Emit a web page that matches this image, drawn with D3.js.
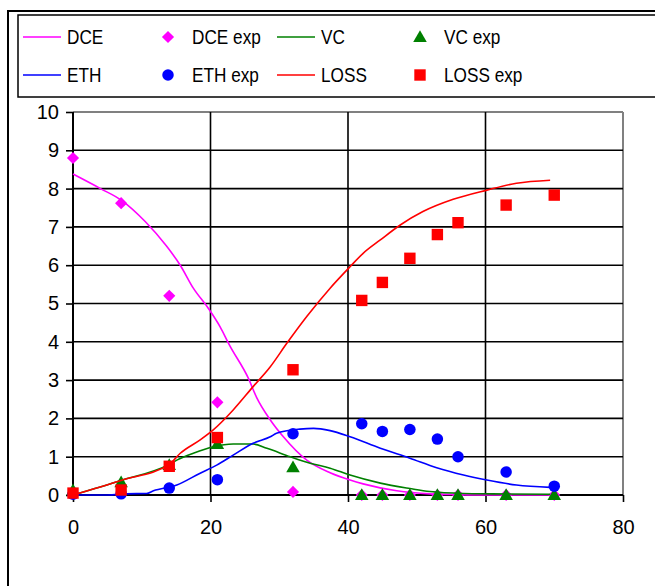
<!DOCTYPE html>
<html>
<head>
<meta charset="utf-8">
<script src="https://cdn.jsdelivr.net/npm/d3@7"></script>
<style>
  html, body { margin: 0; padding: 0; background: #fff; }
  svg { display: block; }
  text { font-family: "Liberation Sans", Arial, sans-serif; fill: #000; }
</style>
</head>
<body>
<svg id="chart" width="655" height="586"></svg>
<script>
// ---- data ----
const expDays = [0, 7, 14, 21, 32, 42, 45, 49, 53, 56, 63, 70];
const dceExp  = [8.8, 7.62, 5.2, 2.42, 0.08, 0, 0, 0, 0, 0, 0, 0];
const vcExp   = [0.12, 0.33, 0.78, 1.33, 0.72, 0, 0, 0, 0, 0, 0, 0];
const ethExp  = [0.02, 0.03, 0.18, 0.4, 1.6, 1.86, 1.66, 1.71, 1.46, 1.0, 0.6, 0.23];
const lossExp = [0.05, 0.13, 0.75, 1.5, 3.27, 5.08, 5.55, 6.18, 6.8, 7.11, 7.57, 7.83];

const dceT = [0, 4, 7, 10.5, 13.6, 15.6, 17.5, 19.7, 21.4, 22.8, 25.5, 26.7, 28.7, 30.6, 34, 37.4, 40.3, 42.2, 47.1, 51.9, 56, 60, 65, 70];
const dceModel = [8.38, 8.0, 7.7, 7.14, 6.5, 6.0, 5.4, 4.87, 4.39, 3.9, 3.05, 2.55, 1.96, 1.52, 0.91, 0.58, 0.39, 0.29, 0.11, 0.03, 0.01, 0, 0, 0];

const vcT = [0, 7, 14, 15.1, 17.5, 20.4, 23.3, 26.2, 28.2, 31.6, 34.5, 37.4, 40.3, 44.7, 49, 51.9, 56.8, 61, 69.4];
const vcModel = [0, 0.38, 0.8, 0.91, 1.09, 1.26, 1.33, 1.33, 1.22, 1.0, 0.83, 0.7, 0.52, 0.31, 0.17, 0.09, 0.04, 0.03, 0.02];

const ethT = [0, 5, 7.8, 10.7, 11.7, 15.1, 18.5, 20.9, 23.3, 26.2, 28.7, 29.6, 33, 35, 37.4, 40.3, 44.7, 49, 52.9, 56.8, 60.2, 64.5, 69.4];
const ethModel = [0, 0, 0.03, 0.04, 0.11, 0.26, 0.57, 0.78, 1.04, 1.35, 1.52, 1.61, 1.72, 1.74, 1.68, 1.52, 1.22, 0.96, 0.71, 0.52, 0.39, 0.26, 0.2];

const lossT = [0, 7, 14, 15.6, 18.5, 20.4, 23.3, 26.2, 28.7, 31.1, 34, 37.4, 40.3, 42.2, 44.7, 47.6, 50.9, 55.3, 60.2, 64.5, 69.4];
const lossModel = [0, 0.38, 0.8, 1.09, 1.44, 1.70, 2.22, 2.83, 3.35, 3.96, 4.66, 5.40, 5.96, 6.31, 6.66, 7.05, 7.40, 7.72, 7.96, 8.14, 8.22];

const xTicks = [0, 20, 40, 60, 80];
const yTicks = [0, 1, 2, 3, 4, 5, 6, 7, 8, 9, 10];

const seriesNames = ["DCE", "DCE exp", "VC", "VC exp", "ETH", "ETH exp", "LOSS", "LOSS exp"];
const colors = { DCE: "#FF00FF", VC: "#008000", ETH: "#0000FF", LOSS: "#FF0000" };

// ---- drawing ----
const svg = d3.select("#chart");
const x = d3.scaleLinear().domain([0, 80]).range([73, 623]);
const y = d3.scaleLinear().domain([0, 10]).range([495, 112]);

// outer chart frame
svg.append("rect").attr("x", 8).attr("y", 11).attr("width", 700).attr("height", 700)
  .attr("fill", "#fff").attr("stroke", "#000").attr("stroke-width", 2);

// legend box
svg.append("rect").attr("x", 18).attr("y", 15).attr("width", 700).attr("height", 82)
  .attr("fill", "#fff").attr("stroke", "#000").attr("stroke-width", 1.5);

// plot area border (gray top/right)
svg.append("line").attr("x1", x(0)).attr("x2", x(80)).attr("y1", y(10)).attr("y2", y(10))
  .attr("stroke", "#808080").attr("stroke-width", 2);
svg.append("line").attr("x1", x(80)).attr("x2", x(80)).attr("y1", y(10)).attr("y2", y(0))
  .attr("stroke", "#808080").attr("stroke-width", 2);

// gridlines
svg.append("g").selectAll("line").data(yTicks.filter(d => d > 0 && d < 10)).join("line")
  .attr("x1", x(0)).attr("x2", x(80)).attr("y1", d => y(d)).attr("y2", d => y(d))
  .attr("stroke", "#000").attr("stroke-width", 1.6);
svg.append("g").selectAll("line").data(xTicks.filter(d => d > 0 && d < 80)).join("line")
  .attr("x1", d => x(d)).attr("x2", d => x(d)).attr("y1", y(10)).attr("y2", y(0))
  .attr("stroke", "#000").attr("stroke-width", 1.6);

// axes
const yAxis = d3.axisLeft(y).tickValues(yTicks).tickSize(7).tickPadding(7).tickFormat(d3.format("d"));
const gy = svg.append("g").attr("transform", `translate(${x(0)},0)`).call(yAxis);
const xAxis = d3.axisBottom(x).tickValues(xTicks).tickSize(7).tickPadding(18).tickFormat(d3.format("d"));
const gx = svg.append("g").attr("transform", `translate(0,${y(0)})`).call(xAxis);
[gx, gy].forEach(g => {
  g.select(".domain").attr("stroke", "#000").attr("stroke-width", 2);
  g.selectAll(".tick line").attr("stroke", "#000").attr("stroke-width", 1.6);
  g.selectAll(".tick text").attr("font-size", 20).attr("font-family", "Liberation Sans, Arial, sans-serif").attr("fill", "#000");
});
gx.select(".domain").attr("d", `M${x(0)},0H${x(80)}`);
gy.select(".domain").attr("d", `M0,${y(0)}V${y(10)}`);

// lines
const lineGen = d3.line().x(d => x(d[0])).y(d => y(d[1])).curve(d3.curveMonotoneX);
function drawLine(ts, vs, color) {
  svg.append("path").datum(ts.map((t, i) => [t, vs[i]]))
    .attr("d", lineGen).attr("fill", "none").attr("stroke", color).attr("stroke-width", 1.6)
    .attr("stroke-linejoin", "round");
}

// markers
const symbols = {
  diamond: d3.symbol().type(d3.symbolSquare).size(74),
  triangle: d3.symbol().type(d3.symbolTriangle).size(80),
  circle: d3.symbol().type(d3.symbolCircle).size(104),
  square: d3.symbol().type(d3.symbolSquare).size(130)
};
function markerTransform(kind, cx, cy) {
  if (kind === "diamond") return `translate(${cx},${cy}) rotate(45)`;
  if (kind === "triangle") return `translate(${cx},${cy + 1})`;
  return `translate(${cx},${cy})`;
}
function drawMarkers(vals, color, kind) {
  svg.append("g").selectAll("path").data(expDays.map((t, i) => [t, vals[i]])).join("path")
    .attr("d", symbols[kind]()).attr("fill", color)
    .attr("transform", d => markerTransform(kind, x(d[0]), y(d[1])));
}

drawLine(dceT, dceModel, colors.DCE);
drawMarkers(dceExp, colors.DCE, "diamond");
drawLine(vcT, vcModel, colors.VC);
drawMarkers(vcExp, colors.VC, "triangle");
drawLine(ethT, ethModel, colors.ETH);
drawMarkers(ethExp, colors.ETH, "circle");
drawLine(lossT, lossModel, colors.LOSS);
drawMarkers(lossExp, colors.LOSS, "square");

// legend
const legendItems = [
  { name: seriesNames[0], color: colors.DCE, type: "line", col: 0, row: 0 },
  { name: seriesNames[1], color: colors.DCE, type: "diamond", col: 1, row: 0 },
  { name: seriesNames[2], color: colors.VC, type: "line", col: 2, row: 0 },
  { name: seriesNames[3], color: colors.VC, type: "triangle", col: 3, row: 0 },
  { name: seriesNames[4], color: colors.ETH, type: "line", col: 0, row: 1 },
  { name: seriesNames[5], color: colors.ETH, type: "circle", col: 1, row: 1 },
  { name: seriesNames[6], color: colors.LOSS, type: "line", col: 2, row: 1 },
  { name: seriesNames[7], color: colors.LOSS, type: "square", col: 3, row: 1 }
];
const colX = [23, 148, 277, 400];
const rowY = [37, 75];
const lg = svg.append("g");
legendItems.forEach(it => {
  const x0 = colX[it.col], yc = rowY[it.row];
  if (it.type === "line") {
    lg.append("line").attr("x1", x0).attr("x2", x0 + 38).attr("y1", yc).attr("y2", yc)
      .attr("stroke", it.color).attr("stroke-width", 1.6);
  } else {
    lg.append("path").attr("d", symbols[it.type]()).attr("fill", it.color)
      .attr("transform", markerTransform(it.type, x0 + 20, yc));
  }
  lg.append("text").attr("transform", `translate(${x0 + 44},${yc + 7}) scale(0.86,1)`)
    .attr("font-size", 20).text(it.name);
});
</script>
</body>
</html>
